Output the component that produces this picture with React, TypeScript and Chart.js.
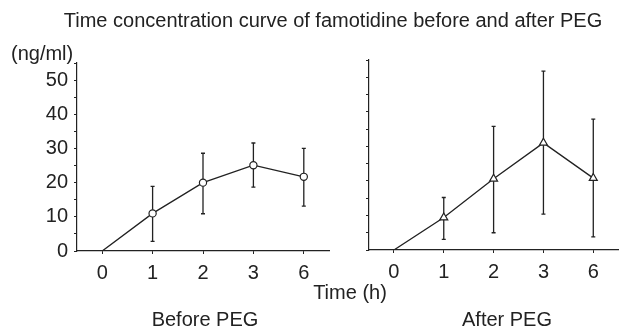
import React, { useEffect, useRef } from 'react';
import { Chart, registerables } from 'chart.js';

Chart.register(...registerables);

// Sampling times (h) and famotidine plasma concentration (ng/ml), mean with SD range
const hours = ['0', '1', '2', '3', '6'];
const beforeMean = [0, 11.0, 20.0, 25.1, 21.7];
const beforeLow = [null, 2.8, 10.9, 18.7, 13.1];
const beforeHigh = [null, 18.9, 28.6, 31.6, 30.0];
const afterMean = [0, 9.4, 20.6, 31.0, 20.8];
const afterLow = [null, 3.1, 5.0, 10.4, 3.8];
const afterHigh = [null, 15.2, 35.8, 51.8, 37.9];
const yMax = 55;
const yStep = 5;

const INK = '#222';
const FONT = '"Liberation Sans", Arial, Helvetica, sans-serif';

const errorBars = {
  id: 'errorBars',
  beforeDatasetsDraw(chart: any, _args: any, opts: any) {
    const { ctx, scales } = chart;
    const x = scales.x;
    const y = scales.y;
    const cap = 2;
    ctx.save();
    ctx.strokeStyle = INK;
    ctx.lineWidth = 1.3;
    (opts.low as (number | null)[]).forEach((lo, i) => {
      const hi = opts.high[i];
      if (lo == null || hi == null) return;
      const px = x.getPixelForValue(i);
      const y1 = y.getPixelForValue(lo);
      const y2 = y.getPixelForValue(hi);
      ctx.beginPath();
      ctx.moveTo(px, y1);
      ctx.lineTo(px, y2);
      ctx.moveTo(px - cap, y1);
      ctx.lineTo(px + cap, y1);
      ctx.moveTo(px - cap, y2);
      ctx.lineTo(px + cap, y2);
      ctx.stroke();
    });
    ctx.restore();
  },
};

type PanelProps = {
  left: number;
  width: number;
  height: number;
  mean: number[];
  low: (number | null)[];
  high: (number | null)[];
  pointStyle: 'circle' | 'triangle';
  radius: number;
  showYLabels: boolean;
  padTop: number;
  padRight: number;
  yWidth: number;
  xHeight: number;
};

function Panel(p: PanelProps) {
  const ref = useRef<HTMLCanvasElement>(null);
  useEffect(() => {
    if (!ref.current) return;
    const chart = new Chart(ref.current, {
      type: 'line',
      data: {
        labels: hours,
        datasets: [
          {
            data: p.mean,
            borderColor: INK,
            borderWidth: 1.3,
            backgroundColor: '#fff',
            pointStyle: p.pointStyle,
            pointRadius: p.mean.map((_, i) => (i === 0 ? 0 : p.radius)),
            pointBorderColor: INK,
            pointBackgroundColor: '#fff',
            pointBorderWidth: 1.2,
            tension: 0,
            fill: false,
          },
        ],
      },
      options: {
        responsive: false,
        animation: false,
        devicePixelRatio: 1,
        layout: { padding: { top: p.padTop, right: p.padRight, left: 0, bottom: 0 } },
        plugins: {
          legend: { display: false },
          tooltip: { enabled: false },
          title: { display: false },
          errorBars: { low: p.low, high: p.high },
        } as any,
        scales: {
          x: {
            type: 'category',
            offset: true,
            afterFit: (s: any) => {
              s.height = p.xHeight;
            },
            grid: {
              display: true,
              drawOnChartArea: false,
              drawTicks: true,
              tickLength: 3,
              tickColor: INK,
              offset: false,
            },
            border: { display: true, color: INK, width: 1.2 },
            ticks: {
              color: INK,
              padding: 7,
              maxRotation: 0,
              autoSkip: false,
              font: { family: FONT, size: 20 },
            },
          },
          y: {
            type: 'linear',
            min: 0,
            max: yMax,
            afterFit: (s: any) => {
              s.width = p.yWidth;
            },
            grid: {
              display: true,
              drawOnChartArea: false,
              drawTicks: true,
              tickLength: 3,
              tickColor: INK,
            },
            border: { display: true, color: INK, width: 1.2 },
            ticks: {
              stepSize: yStep,
              autoSkip: false,
              color: INK,
              padding: 6,
              font: { family: FONT, size: 20 },
              callback: (v: any) => (p.showYLabels && Number(v) % 10 === 0 ? String(v) : ''),
            },
          },
        },
      },
      plugins: [errorBars],
    });
    return () => chart.destroy();
  }, []);
  return (
    <canvas
      ref={ref}
      width={p.width}
      height={p.height}
      style={{ position: 'absolute', left: p.left, top: 0, width: p.width, height: p.height }}
    />
  );
}

const textStyle = (x: number, top: number, center = true): React.CSSProperties => ({
  position: 'absolute',
  left: x,
  top,
  transform: center ? 'translateX(-50%)' : undefined,
  whiteSpace: 'nowrap',
  fontFamily: FONT,
  fontSize: 20,
  lineHeight: '20px',
  color: INK,
});

export default function App() {
  return (
    <div
      style={{
        position: 'fixed',
        left: 0,
        top: 0,
        width: 624,
        height: 329,
        background: '#fff',
        overflow: 'hidden',
      }}
    >
      <Panel
        left={0}
        width={335}
        height={329}
        mean={beforeMean}
        low={beforeLow}
        high={beforeHigh}
        pointStyle="circle"
        radius={3.6}
        showYLabels={true}
        padTop={63}
        padRight={6}
        yWidth={77}
        xHeight={78}
      />
      <Panel
        left={340}
        width={284}
        height={329}
        mean={afterMean}
        low={afterLow}
        high={afterHigh}
        pointStyle="triangle"
        radius={4.6}
        showYLabels={false}
        padTop={60}
        padRight={1}
        yWidth={29}
        xHeight={79}
      />
      <div style={textStyle(333, 10)}>Time concentration curve of famotidine before and after PEG</div>
      <div style={textStyle(11, 43, false)}>(ng/ml)</div>
      <div style={textStyle(350, 282)}>Time (h)</div>
      <div style={textStyle(205, 309)}>Before PEG</div>
      <div style={textStyle(507, 309)}>After PEG</div>
    </div>
  );
}
